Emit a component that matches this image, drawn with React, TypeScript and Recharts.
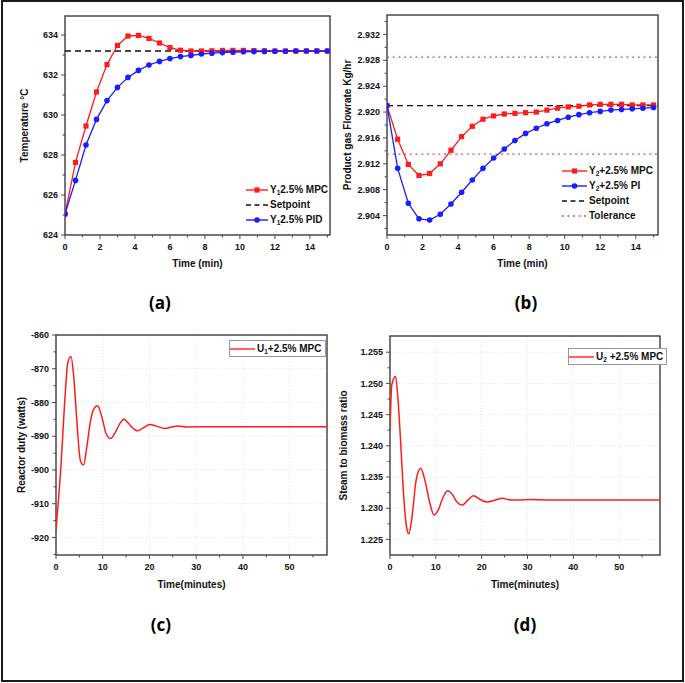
import React from 'react';
import {
  CartesianGrid,
  Label,
  Legend,
  Line,
  LineChart,
  ReferenceArea,
  ReferenceLine,
  XAxis,
  YAxis,
} from 'recharts';

// (a) / (b): sampled every 0.6 min
const timeMin = [0, 0.6, 1.2, 1.8, 2.4, 3, 3.6, 4.2, 4.8, 5.4, 6, 6.6, 7.2, 7.8, 8.4, 9, 9.6, 10.2, 10.8, 11.4, 12, 12.6, 13.2, 13.8, 14.4, 15];
const tempMpc = [625.05, 627.63, 629.45, 631.15, 632.52, 633.48, 633.95, 633.98, 633.83, 633.6, 633.37, 633.24, 633.2, 633.2, 633.21, 633.23, 633.23, 633.23, 633.22, 633.21, 633.2, 633.2, 633.2, 633.2, 633.2, 633.2];
const tempPid = [625.05, 626.73, 628.5, 629.78, 630.72, 631.38, 631.88, 632.23, 632.5, 632.68, 632.82, 632.92, 632.98, 633.05, 633.09, 633.12, 633.14, 633.16, 633.17, 633.18, 633.19, 633.19, 633.2, 633.2, 633.2, 633.2];
const tempSetpoint = 633.2;

const flowMpc = [2.921, 2.9158, 2.9119, 2.9102, 2.9105, 2.912, 2.9141, 2.9162, 2.9178, 2.9189, 2.9194, 2.9197, 2.9198, 2.9199, 2.92, 2.9203, 2.9206, 2.9208, 2.9209, 2.9211, 2.9212, 2.9212, 2.9212, 2.9211, 2.9211, 2.9211];
const flowPi = [2.921, 2.9113, 2.9059, 2.9035, 2.9033, 2.9042, 2.9058, 2.9076, 2.9095, 2.9113, 2.9129, 2.9143, 2.9156, 2.9167, 2.9175, 2.9182, 2.9187, 2.9192, 2.9196, 2.9199, 2.9201, 2.9203, 2.9204, 2.9205, 2.9206, 2.9207];
const flowSetpoint = 2.921;
const flowTolerance = [2.9135, 2.9285];

// (c) reactor duty
const dutyTime = [0, 1, 2, 2.5, 3.2, 3.8, 4.5, 5.2, 5.9, 6.6, 7.3, 8, 8.9, 9.8, 10.7, 11.7, 12.6, 13.7, 14.5, 15.4, 16.5, 17.4, 18.6, 20.1, 21.5, 23.3, 25, 26.1, 28, 30, 35, 40, 45, 50, 55, 58];
const dutyMpc = [-917.8, -900, -877, -868.4, -866.4, -872.4, -886.2, -897.1, -898.5, -893.1, -886.2, -882.2, -881, -884.2, -889.1, -890.7, -889.1, -886.2, -885, -886, -887.7, -888.4, -887.6, -886.5, -887, -887.7, -887.2, -887, -887.3, -887.2, -887.2, -887.2, -887.2, -887.2, -887.2, -887.2];

// (d) steam to biomass ratio
const ratioTime = [0, 0.4, 1.2, 1.7, 2.3, 2.9, 3.6, 4.1, 4.8, 5.7, 6.7, 7.6, 8.7, 9.6, 10.5, 11.6, 12.6, 13.5, 14.6, 15.7, 17, 18.2, 19.7, 21.2, 23, 24.5, 26.3, 28, 30.5, 35, 40, 45, 50, 55, 58.9];
const ratioMpc = [1.2425, 1.2498, 1.2511, 1.2479, 1.2409, 1.2329, 1.227, 1.2259, 1.2286, 1.2345, 1.2364, 1.2345, 1.2308, 1.2289, 1.2297, 1.2318, 1.2328, 1.2323, 1.231, 1.2305, 1.2313, 1.232, 1.2314, 1.231, 1.2313, 1.2316, 1.2313, 1.2313, 1.2314, 1.2313, 1.2313, 1.2313, 1.2313, 1.2313, 1.2313];

// ticks
const xMajorShort = [0, 2, 4, 6, 8, 10, 12, 14];
const xMinorShort = [1, 3, 5, 7, 9, 11, 13, 15];
const xMajorLong = [0, 10, 20, 30, 40, 50];
const xMinorLong = [5, 15, 25, 35, 45, 55];
const tempMajor = [624, 626, 628, 630, 632, 634];
const tempMinor = [625, 627, 629, 631, 633];
const flowMajor = [2.904, 2.908, 2.912, 2.916, 2.92, 2.924, 2.928, 2.932];
const flowMinor = [2.902, 2.906, 2.91, 2.914, 2.918, 2.922, 2.926, 2.93, 2.934];
const dutyMajor = [-920, -910, -900, -890, -880, -870, -860];
const dutyMinor = [-925, -915, -905, -895, -885, -875, -865];
const ratioMajor = [1.225, 1.23, 1.235, 1.24, 1.245, 1.25, 1.255];
const ratioMinor = [1.2275, 1.2325, 1.2375, 1.2425, 1.2475, 1.2525];

const FONT = '"Liberation Sans", Arial, sans-serif';
const RED = '#ff1c1c';
const BLUE = '#1c1cff';
const AXIS = '#4a4a4a';

const isMajor = (majors: number[], v: number) => majors.some((m) => Math.abs(m - v) < 1e-7);

const xTick = (majors: number[]) => (p: any) => {
  const major = isMajor(majors, p.payload.value);
  return (
    <g key={`xt${p.index}`}>
      <line x1={p.x} x2={p.x} y1={p.y} y2={p.y + (major ? 4 : 2.5)} stroke={AXIS} strokeWidth={1} />
      {major && (
        <text x={p.x} y={p.y + 14.5} textAnchor="middle" fontSize={9} fontWeight="bold" fontFamily={FONT} fill="#111">
          {p.payload.value}
        </text>
      )}
    </g>
  );
};

const yTick = (majors: number[], fmt: (v: number) => string) => (p: any) => {
  const major = isMajor(majors, p.payload.value);
  return (
    <g key={`yt${p.index}`}>
      <line x1={p.x} x2={p.x - (major ? 4 : 2.5)} y1={p.y} y2={p.y} stroke={AXIS} strokeWidth={1} />
      {major && (
        <text x={p.x - 7} y={p.y} dy="0.35em" textAnchor="end" fontSize={9} fontWeight="bold" fontFamily={FONT} fill="#111">
          {fmt(p.payload.value)}
        </text>
      )}
    </g>
  );
};

const squareDot = (color: string) => (p: any) => (
  <rect key={`s${p.index}`} x={p.cx - 2.6} y={p.cy - 2.6} width={5.2} height={5.2} fill={color} />
);
const circleDot = (color: string) => (p: any) => (
  <circle key={`c${p.index}`} cx={p.cx} cy={p.cy} r={2.8} fill={color} />
);

type Row = { kind: 'square' | 'circle' | 'dash' | 'dot' | 'line'; color: string; label: React.ReactNode };

function LegendBox({ rows, symbolWidth, boxed }: { rows: Row[]; symbolWidth: number; boxed?: boolean }) {
  return (
    <div
      style={{
        fontFamily: FONT,
        fontWeight: 'bold',
        fontSize: 10,
        color: '#111',
        background: boxed ? '#fff' : 'transparent',
        border: boxed ? '1px solid #999' : 'none',
        padding: boxed ? '0 3px 0 0' : 0,
      }}
    >
      {rows.map((r, i) => (
        <div key={i} style={{ display: 'flex', alignItems: 'center', height: 15, whiteSpace: 'nowrap' }}>
          <svg width={symbolWidth} height={10} style={{ marginRight: 2 }}>
            <line
              x1={0}
              x2={symbolWidth}
              y1={5}
              y2={5}
              stroke={r.color}
              strokeWidth={r.kind === 'dot' ? 1.3 : 1.4}
              strokeDasharray={r.kind === 'dash' ? '5 3.5' : r.kind === 'dot' ? '2 3.5' : undefined}
            />
            {r.kind === 'square' && <rect x={symbolWidth / 2 - 2.6} y={2.4} width={5.2} height={5.2} fill={r.color} />}
            {r.kind === 'circle' && <circle cx={symbolWidth / 2} cy={5} r={2.8} fill={r.color} />}
          </svg>
          <span>{r.label}</span>
        </div>
      ))}
    </div>
  );
}

const sub = (s: string) => <sub style={{ fontSize: 6.5, verticalAlign: -2 }}>{s}</sub>;

const legendA: Row[] = [
  { kind: 'square', color: RED, label: <>Y{sub('1')}2.5% MPC</> },
  { kind: 'dash', color: '#111', label: 'Setpoint' },
  { kind: 'circle', color: BLUE, label: <>Y{sub('1')}2.5% PID</> },
];
const legendB: Row[] = [
  { kind: 'square', color: RED, label: <>Y{sub('2')}+2.5% MPC</> },
  { kind: 'circle', color: BLUE, label: <>Y{sub('2')}+2.5% PI</> },
  { kind: 'dash', color: '#111', label: 'Setpoint' },
  { kind: 'dot', color: '#c05a5a', label: 'Tolerance' },
];
const legendC: Row[] = [{ kind: 'line', color: RED, label: <>U{sub('1')}+2.5% MPC</> }];
const legendD: Row[] = [{ kind: 'line', color: RED, label: <>U{sub('2')} +2.5% MPC</> }];

const tempRows = timeMin.map((t, i) => ({ t, mpc: tempMpc[i], pid: tempPid[i] }));
const flowRows = timeMin.map((t, i) => ({ t, mpc: flowMpc[i], pi: flowPi[i] }));
const dutyRows = dutyTime.map((t, i) => ({ t, mpc: dutyMpc[i] }));
const ratioRows = ratioTime.map((t, i) => ({ t, mpc: ratioMpc[i] }));

const axisTitle = { fontSize: 10, fontWeight: 'bold', fill: '#111', fontFamily: FONT } as const;

const panelLabel = (text: string, cx: number, cy: number) => (
  <div
    style={{
      position: 'absolute',
      left: cx - 30,
      top: cy - 12,
      width: 60,
      textAlign: 'center',
      fontFamily: '"Open Sans", sans-serif',
      fontWeight: 700,
      fontSize: 17,
      lineHeight: '24px',
      color: '#000',
    }}
  >
    {text}
  </div>
);

export default function App() {
  const aX = [0, 15.15];
  const aY = [624, 634.95];
  const bX = [0, 15.25];
  const bY = [2.901, 2.935];
  const cX = [0, 58];
  const cY = [-925.2, -860];
  const dX = [0, 58.9];
  const dY = [1.2225, 1.2576];

  return (
    <div style={{ position: 'absolute', left: 0, top: 0, width: 685, height: 683, background: '#fff', fontFamily: FONT }}>
      <div style={{ position: 'absolute', left: 1, top: 0, width: 683, height: 682, border: '2px solid #1a1a1a', boxSizing: 'border-box' }} />

      {/* (a) */}
      <div style={{ position: 'absolute', left: 0, top: 0 }}>
        <LineChart width={340} height={280} data={tempRows} margin={{ top: 16, right: 10, bottom: 5, left: 0 }}>
          <XAxis dataKey="t" type="number" domain={aX} allowDataOverflow ticks={[...xMajorShort, ...xMinorShort]} interval={0} axisLine={false} tickLine={false} tickSize={0} tickMargin={0} height={40} tick={xTick(xMajorShort)}>
            <Label value="Time (min)" position="insideBottom" offset={8} style={axisTitle} />
          </XAxis>
          <YAxis type="number" domain={aY} allowDataOverflow ticks={[...tempMajor, ...tempMinor]} interval={0} axisLine={false} tickLine={false} tickSize={0} tickMargin={0} width={65} tick={yTick(tempMajor, (v) => String(v))}>
            <Label value="Temperature °C" angle={-90} position="insideLeft" offset={24} style={{ ...axisTitle, textAnchor: 'middle' }} />
          </YAxis>
          <ReferenceLine y={tempSetpoint} stroke="#111" strokeWidth={1.3} strokeDasharray="6 4" />
          <Line type="linear" dataKey="mpc" stroke={RED} strokeWidth={1.3} dot={squareDot(RED)} isAnimationActive={false} />
          <Line type="linear" dataKey="pid" stroke={BLUE} strokeWidth={1.3} dot={circleDot(BLUE)} isAnimationActive={false} />
          <ReferenceArea x1={aX[0]} x2={aX[1]} y1={aY[0]} y2={aY[1]} fill="none" stroke={AXIS} strokeWidth={1.5} />
          <Legend layout="vertical" align="center" verticalAlign="middle" wrapperStyle={{ left: 246, top: 182, width: 'auto' }} content={() => <LegendBox rows={legendA} symbolWidth={22} />} />
        </LineChart>
      </div>

      {/* (b) */}
      <div style={{ position: 'absolute', left: 335, top: 0 }}>
        <LineChart width={350} height={280} data={flowRows} margin={{ top: 15, right: 27, bottom: 5, left: 0 }}>
          <XAxis dataKey="t" type="number" domain={bX} allowDataOverflow ticks={[...xMajorShort, ...xMinorShort]} interval={0} axisLine={false} tickLine={false} tickSize={0} tickMargin={0} height={40} tick={xTick(xMajorShort)}>
            <Label value="Time (min)" position="insideBottom" offset={8} style={axisTitle} />
          </XAxis>
          <YAxis type="number" domain={bY} allowDataOverflow ticks={[...flowMajor, ...flowMinor]} interval={0} axisLine={false} tickLine={false} tickSize={0} tickMargin={0} width={52} tick={yTick(flowMajor, (v) => v.toFixed(3))}>
            <Label value="Product gas Flowrate Kg/hr" angle={-90} position="insideLeft" offset={12} style={{ ...axisTitle, textAnchor: 'middle' }} />
          </YAxis>
          {flowTolerance.map((v) => (
            <ReferenceLine key={v} y={v} stroke="#c05a5a" strokeWidth={1.3} strokeDasharray="2 3.7" />
          ))}
          <ReferenceLine y={flowSetpoint} stroke="#111" strokeWidth={1.3} strokeDasharray="6 4" />
          <Line type="linear" dataKey="mpc" stroke={RED} strokeWidth={1.3} dot={squareDot(RED)} isAnimationActive={false} />
          <Line type="linear" dataKey="pi" stroke={BLUE} strokeWidth={1.3} dot={circleDot(BLUE)} isAnimationActive={false} />
          <ReferenceArea x1={bX[0]} x2={bX[1]} y1={bY[0]} y2={bY[1]} fill="none" stroke={AXIS} strokeWidth={1.5} />
          <Legend layout="vertical" align="center" verticalAlign="middle" wrapperStyle={{ left: 227, top: 163, width: 'auto' }} content={() => <LegendBox rows={legendB} symbolWidth={25} />} />
        </LineChart>
      </div>

      {/* (c) */}
      <div style={{ position: 'absolute', left: 0, top: 320 }}>
        <LineChart width={340} height={280} data={dutyRows} margin={{ top: 15, right: 13, bottom: 5, left: 0 }}>
          <CartesianGrid stroke="#e4e4e4" strokeDasharray="1 2" horizontalValues={dutyMajor} verticalValues={xMajorLong} />
          <XAxis dataKey="t" type="number" domain={cX} allowDataOverflow ticks={[...xMajorLong, ...xMinorLong]} interval={0} axisLine={false} tickLine={false} tickSize={0} tickMargin={0} height={40} tick={xTick(xMajorLong)}>
            <Label value="Time(minutes)" position="insideBottom" offset={7} style={axisTitle} />
          </XAxis>
          <YAxis type="number" domain={cY} allowDataOverflow ticks={[...dutyMajor, ...dutyMinor]} interval={0} axisLine={false} tickLine={false} tickSize={0} tickMargin={0} width={56} tick={yTick(dutyMajor, (v) => String(v))}>
            <Label value="Reactor duty (watts)" angle={-90} position="insideLeft" offset={21} style={{ ...axisTitle, textAnchor: 'middle' }} />
          </YAxis>
          <Line type="monotone" dataKey="mpc" stroke={RED} strokeWidth={1.5} dot={false} isAnimationActive={false} />
          <ReferenceArea x1={cX[0]} x2={cX[1]} y1={cY[0]} y2={cY[1]} fill="none" stroke={AXIS} strokeWidth={1.5} />
          <Legend layout="vertical" align="center" verticalAlign="middle" wrapperStyle={{ left: 229, top: 20, width: 'auto' }} content={() => <LegendBox rows={legendC} symbolWidth={25} boxed />} />
        </LineChart>
      </div>

      {/* (d) */}
      <div style={{ position: 'absolute', left: 335, top: 320 }}>
        <LineChart width={350} height={280} data={ratioRows} margin={{ top: 16, right: 25, bottom: 5, left: 0 }}>
          <CartesianGrid stroke="#e4e4e4" strokeDasharray="1 2" horizontalValues={ratioMajor} verticalValues={xMajorLong} />
          <XAxis dataKey="t" type="number" domain={dX} allowDataOverflow ticks={[...xMajorLong, ...xMinorLong]} interval={0} axisLine={false} tickLine={false} tickSize={0} tickMargin={0} height={40} tick={xTick(xMajorLong)}>
            <Label value="Time(minutes)" position="insideBottom" offset={7} style={axisTitle} />
          </XAxis>
          <YAxis type="number" domain={dY} allowDataOverflow ticks={[...ratioMajor, ...ratioMinor]} interval={0} axisLine={false} tickLine={false} tickSize={0} tickMargin={0} width={55} tick={yTick(ratioMajor, (v) => v.toFixed(3))}>
            <Label value="Steam to biomass ratio" angle={-90} position="insideLeft" offset={8} style={{ ...axisTitle, textAnchor: 'middle' }} />
          </YAxis>
          <Line type="monotone" dataKey="mpc" stroke={RED} strokeWidth={1.5} dot={false} isAnimationActive={false} />
          <ReferenceArea x1={dX[0]} x2={dX[1]} y1={dY[0]} y2={dY[1]} fill="none" stroke={AXIS} strokeWidth={1.5} />
          <Legend layout="vertical" align="center" verticalAlign="middle" wrapperStyle={{ left: 233, top: 28, width: 'auto' }} content={() => <LegendBox rows={legendD} symbolWidth={25} boxed />} />
        </LineChart>
      </div>

      {panelLabel('(a)', 160, 303)}
      {panelLabel('(b)', 526, 303)}
      {panelLabel('(c)', 161, 625)}
      {panelLabel('(d)', 525, 625)}
    </div>
  );
}
